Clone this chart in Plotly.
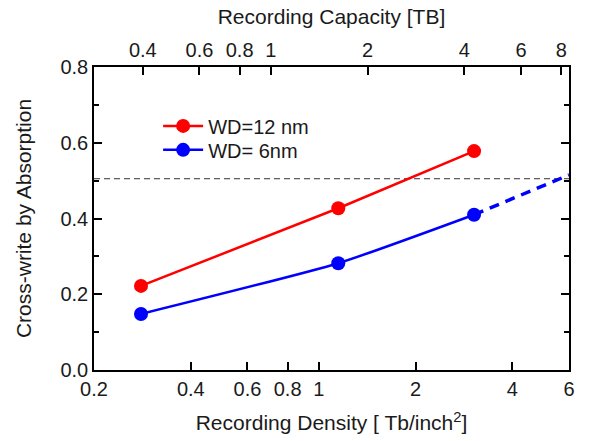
import numpy as np
import plotly.graph_objects as go

density = [0.28, 1.15, 3.04]
wd12 = [0.222, 0.427, 0.578]
wd6 = [0.148, 0.282, 0.41]
wd6_ext_x = [3.04, 6.0]
wd6_ext_y = [0.41, 0.515]
threshold = 0.505
cap_factor = 1.41
x_ticks = [0.2, 0.4, 0.6, 0.8, 1, 2, 4, 6]
top_ticks = [0.4, 0.6, 0.8, 1, 2, 4, 6, 8]
y_ticks = [0.0, 0.2, 0.4, 0.6, 0.8]

xr = [np.log10(0.2), np.log10(6.0)]
xr2 = [v + np.log10(cap_factor) for v in xr]
font = "Liberation Sans, Arial, sans-serif"
FS = 20
TS = 21

fig = go.Figure()
fig.add_trace(go.Scatter(x=density, y=wd12, mode="lines+markers", name="WD=12 nm",
                         line=dict(color="#ff0000", width=2.5),
                         marker=dict(size=14, color="#ff0000"), legend="legend"))
fig.add_trace(go.Scatter(x=density, y=wd6, mode="lines+markers", name="WD= 6nm",
                         line=dict(color="#0000ff", width=2.5, shape="spline", smoothing=0.5),
                         marker=dict(size=14, color="#0000ff"), legend="legend2"))
fig.add_trace(go.Scatter(x=wd6_ext_x, y=wd6_ext_y, mode="lines", showlegend=False,
                         line=dict(color="#0000ff", width=3.5, dash="10px,7px"), cliponaxis=False))
fig.add_trace(go.Scatter(x=[None], y=[None], xaxis="x2", showlegend=False, hoverinfo="skip"))

fig.add_shape(type="line", xref="paper", x0=0, x1=1, yref="y", y0=threshold, y1=threshold,
              line=dict(color="#333333", width=1, dash="6px,4px"), layer="below")

axis_common = dict(showgrid=False, zeroline=False, linecolor="black", linewidth=1.5,
                   ticks="inside", ticklen=8, tickwidth=1.5, tickcolor="black", automargin=False,
                   tickfont=dict(size=FS, color="#1a1a1a", family=font))

leg_common = dict(xanchor="left", yanchor="top", bgcolor="rgba(0,0,0,0)",
                  font=dict(size=FS), itemwidth=40, tracegroupgap=0)

fig.update_layout(
    width=592, height=441,
    margin=dict(l=94, r=23, t=67, b=71),
    plot_bgcolor="white", paper_bgcolor="white",
    font=dict(family=font, size=FS, color="#1a1a1a"),
    xaxis=dict(type="log", range=xr, tickvals=x_ticks, ticktext=[str(v) for v in x_ticks],
               title=dict(text="Recording Density [ Tb/inch<sup>2</sup>]", font=dict(size=TS), standoff=17),
               showline=True, **axis_common),
    xaxis2=dict(type="log", range=xr2, overlaying="x", side="top", anchor="y",
                tickvals=top_ticks, ticktext=[str(v) for v in top_ticks],
                title=dict(text="Recording Capacity [TB]", font=dict(size=TS), standoff=9),
                showline=True, **axis_common),
    yaxis=dict(range=[0, 0.8], tickvals=y_ticks, ticktext=["0.0", "0.2", "0.4", "0.6", "0.8"],
               title=dict(text="Cross-write by Absorption", font=dict(size=TS), standoff=23),
               showline=True, mirror="ticks",
               minor=dict(dtick=0.1, ticks="inside", ticklen=5, tickwidth=1.5, tickcolor="black"),
               **axis_common),
    legend=dict(x=0.135, y=0.87, **leg_common),
    legend2=dict(x=0.135, y=0.791, **leg_common),
    showlegend=True,
)

fig.write_html("out.html", post_script="document.body.style.margin='0';",
               config={"displayModeBar": False})
